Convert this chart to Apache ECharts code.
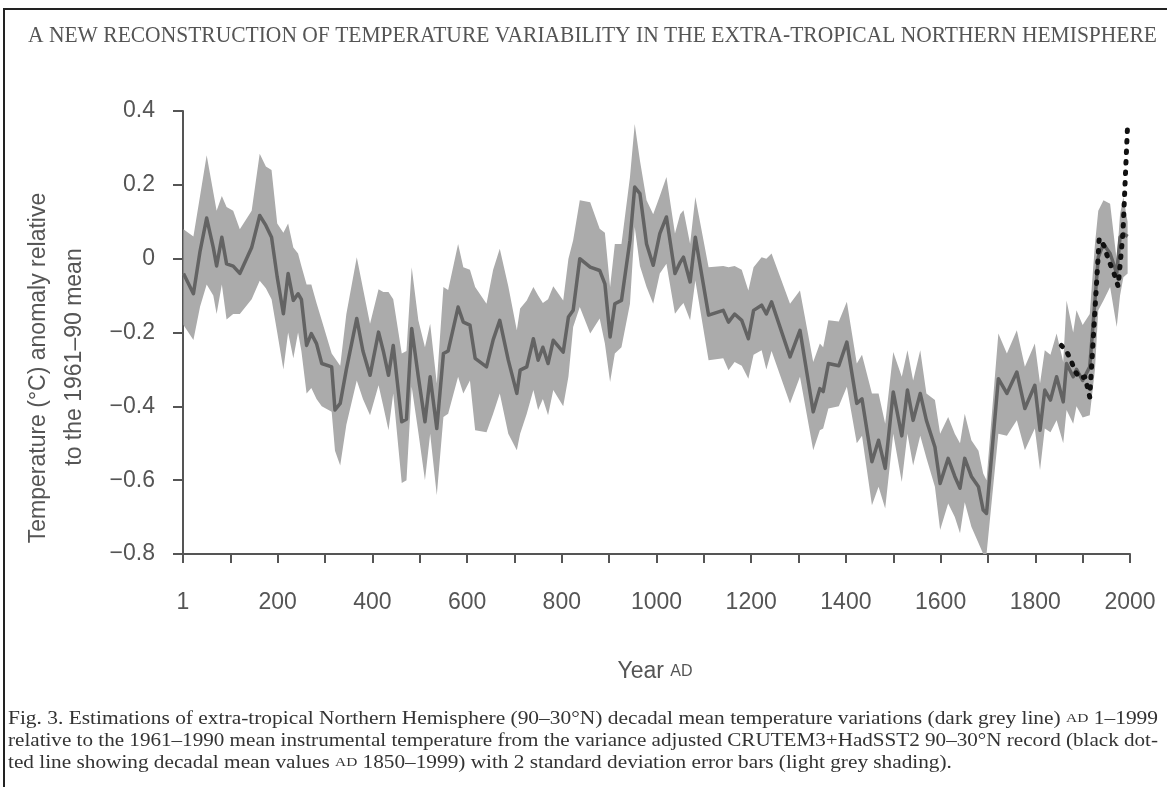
<!DOCTYPE html>
<html>
<head>
<meta charset="utf-8">
<script src="https://cdn.jsdelivr.net/npm/echarts@6/dist/echarts.min.js"></script>
<style>
  html, body { margin: 0; padding: 0; background: #fff; }
  #chart { width: 1167px; height: 787px; }
</style>
</head>
<body>
<div id="chart"></div>
<script>
// Reconstruction: decadal mean anomaly (°C) with ±2 s.d. envelope
const years = [1,22,36,50,64,71,82,92,106,120,145,162,175,187,199,212,222,233,243,250,261,271,282,293,314,321,332,345,367,380,395,413,423,434,444,462,472,483,497,511,522,536,550,560,581,592,606,617,641,655,669,687,705,712,726,740,750,760,771,782,803,814,824,838,860,880,891,902,912,926,944,954,965,979,993,1007,1021,1039,1050,1057,1071,1082,1110,1141,1152,1165,1180,1194,1205,1222,1232,1243,1282,1303,1331,1345,1352,1363,1385,1402,1423,1434,1455,1469,1483,1500,1518,1530,1542,1557,1570,1588,1599,1616,1630,1641,1651,1665,1680,1690,1697,1722,1740,1761,1778,1799,1810,1820,1832,1845,1859,1866,1880,1887,1900,1915,1926,1933,1944,1958,1972,1979,1986,1995];
const meanAnomaly = [-0.04,-0.095,0.02,0.11,0.03,-0.02,0.058,-0.014,-0.02,-0.04,0.03,0.117,0.09,0.058,-0.05,-0.149,-0.04,-0.113,-0.095,-0.11,-0.235,-0.203,-0.23,-0.284,-0.293,-0.41,-0.392,-0.30,-0.162,-0.25,-0.316,-0.199,-0.25,-0.316,-0.235,-0.442,-0.435,-0.189,-0.32,-0.442,-0.32,-0.46,-0.257,-0.25,-0.131,-0.172,-0.18,-0.27,-0.293,-0.22,-0.167,-0.275,-0.365,-0.302,-0.293,-0.217,-0.275,-0.24,-0.284,-0.221,-0.253,-0.158,-0.14,0.0,-0.023,-0.032,-0.068,-0.212,-0.122,-0.113,0.05,0.194,0.176,0.04,-0.018,0.068,0.113,-0.04,-0.01,0.004,-0.063,0.058,-0.153,-0.14,-0.172,-0.15,-0.167,-0.217,-0.14,-0.126,-0.15,-0.117,-0.266,-0.194,-0.415,-0.352,-0.36,-0.284,-0.29,-0.226,-0.392,-0.38,-0.55,-0.492,-0.568,-0.361,-0.48,-0.356,-0.438,-0.365,-0.438,-0.51,-0.609,-0.541,-0.59,-0.622,-0.541,-0.59,-0.618,-0.681,-0.69,-0.325,-0.365,-0.307,-0.406,-0.343,-0.465,-0.356,-0.383,-0.32,-0.388,-0.284,-0.32,-0.30,-0.33,-0.293,-0.113,0.004,0.04,0.014,-0.04,0.058,0.068,0.06];
const upper2sd = [0.08,0.06,0.17,0.28,0.18,0.13,0.17,0.14,0.13,0.08,0.13,0.284,0.25,0.24,0.095,0.07,0.095,0.03,0.014,-0.02,-0.07,-0.07,-0.12,-0.167,-0.257,-0.27,-0.29,-0.15,0.004,-0.08,-0.176,-0.083,-0.09,-0.09,-0.11,-0.257,-0.25,-0.023,-0.167,-0.24,-0.176,-0.338,-0.077,-0.085,0.04,-0.023,-0.03,-0.077,-0.122,-0.03,0.027,-0.075,-0.194,-0.135,-0.113,-0.077,-0.10,-0.12,-0.11,-0.075,-0.113,0.0,0.05,0.158,0.153,0.081,0.07,-0.077,0.04,0.04,0.221,0.365,0.266,0.158,0.12,0.17,0.221,0.068,0.12,0.131,0.04,0.167,-0.023,-0.02,-0.023,-0.02,-0.03,-0.086,-0.023,0.004,0.0,0.014,-0.122,-0.086,-0.28,-0.23,-0.24,-0.167,-0.17,-0.117,-0.284,-0.26,-0.365,-0.365,-0.447,-0.253,-0.32,-0.248,-0.33,-0.248,-0.365,-0.383,-0.474,-0.429,-0.474,-0.50,-0.42,-0.492,-0.52,-0.582,-0.60,-0.203,-0.257,-0.194,-0.293,-0.23,-0.338,-0.248,-0.26,-0.203,-0.28,-0.113,-0.20,-0.14,-0.18,-0.15,0.04,0.13,0.158,0.149,-0.005,0.12,0.167,0.10];
const lower2sd = [-0.18,-0.22,-0.13,-0.07,-0.10,-0.15,-0.07,-0.165,-0.15,-0.15,-0.11,-0.06,-0.08,-0.11,-0.20,-0.30,-0.20,-0.27,-0.20,-0.25,-0.365,-0.35,-0.38,-0.40,-0.415,-0.52,-0.56,-0.45,-0.33,-0.38,-0.424,-0.343,-0.40,-0.465,-0.365,-0.608,-0.60,-0.347,-0.47,-0.60,-0.474,-0.641,-0.429,-0.42,-0.32,-0.365,-0.33,-0.465,-0.47,-0.42,-0.365,-0.474,-0.519,-0.474,-0.42,-0.356,-0.41,-0.38,-0.424,-0.356,-0.40,-0.32,-0.185,-0.131,-0.203,-0.162,-0.23,-0.334,-0.257,-0.24,-0.122,0.086,-0.02,-0.077,-0.122,-0.04,-0.014,-0.149,-0.13,-0.12,-0.167,-0.059,-0.275,-0.27,-0.302,-0.28,-0.29,-0.325,-0.26,-0.248,-0.30,-0.25,-0.392,-0.32,-0.519,-0.465,-0.46,-0.406,-0.40,-0.347,-0.50,-0.48,-0.668,-0.618,-0.677,-0.474,-0.605,-0.474,-0.56,-0.48,-0.54,-0.618,-0.735,-0.663,-0.70,-0.744,-0.66,-0.726,-0.77,-0.80,-0.80,-0.474,-0.48,-0.438,-0.519,-0.46,-0.573,-0.46,-0.47,-0.438,-0.50,-0.41,-0.447,-0.40,-0.43,-0.424,-0.30,-0.14,-0.113,-0.077,-0.185,-0.10,-0.05,-0.04];

// Instrumental record, decadal means AD 1850–1999
const obsYears = [1855,1865,1875,1885,1895,1905,1915,1925,1935,1945,1955,1965,1975,1985,1995];
const obsAnomaly = [-0.235,-0.248,-0.275,-0.307,-0.325,-0.32,-0.375,-0.16,0.055,0.035,-0.005,-0.035,-0.075,0.068,0.365];

const xTicks = { min: 0, max: 2000, step: 100 };
const yTicks = { min: -0.8, max: 0.4, step: 0.2 };

const titleText = 'A NEW RECONSTRUCTION OF TEMPERATURE VARIABILITY IN THE EXTRA-TROPICAL NORTHERN HEMISPHERE';
const yName = ['Temperature (°C) anomaly relative', 'to the 1961–90 mean'];
const captionLines = [
  [['Fig. 3. Estimations of extra-tropical Northern Hemisphere (90–30°N) decadal mean temperature variations (dark grey line) ', 'n'], ['AD', 's'], [' 1–1999', 'n']],
  [['relative to the 1961–1990 mean instrumental temperature from the variance adjusted CRUTEM3+HadSST2 90–30°N record (black dot-', 'n']],
  [['ted line showing decadal mean values ', 'n'], ['AD', 's'], [' 1850–1999) with 2 standard deviation error bars (light grey shading).', 'n']]
];

const SERIF = '"Liberation Serif", "DejaVu Serif", serif';
const SANS = '"Liberation Sans", Arial, sans-serif';

const ctx = document.createElement('canvas').getContext('2d');
function measure(text, font) { ctx.font = font; return ctx.measureText(text).width; }

// title squeezed to its printed width
const titleFont = '23px ' + SERIF;
const titleScale = 1129 / measure(titleText, titleFont);

// caption, justified lines
const capSize = 18, capSmall = 13;
function capWidth(line) {
  return line.reduce((s, [t, k]) => s + measure(t, (k === 's' ? capSmall : capSize) + 'px ' + SERIF), 0);
}
const capScales = [1150 / capWidth(captionLines[0]), 1150 / capWidth(captionLines[1])];
capScales.push((capScales[0] + capScales[1]) / 2);
function capRich(line) {
  return line.map(([t, k]) => '{' + k + '|' + t + '}').join('');
}
const capY = [719, 741, 763];

const graphics = [
  { type: 'line', shape: { x1: 3, y1: 9, x2: 1167, y2: 9 }, style: { stroke: '#222', lineWidth: 2 }, silent: true },
  { type: 'line', shape: { x1: 4, y1: 8, x2: 4, y2: 787 }, style: { stroke: '#222', lineWidth: 2 }, silent: true },
  {
    type: 'text', x: 28, y: 36, scaleX: titleScale, originX: 0, originY: 0,
    style: { text: titleText, font: titleFont, fill: '#555', textAlign: 'left', textVerticalAlign: 'middle' }
  },
  {
    type: 'text', x: 39, y: 368, rotation: Math.PI / 2,
    style: { text: yName[0], font: '23px ' + SANS, fill: '#555', textAlign: 'center', textVerticalAlign: 'middle' }
  },
  {
    type: 'text', x: 75, y: 357, rotation: Math.PI / 2,
    style: { text: yName[1], font: '23px ' + SANS, fill: '#555', textAlign: 'center', textVerticalAlign: 'middle' }
  },
  {
    type: 'text', x: 655, y: 672,
    style: {
      text: '{a|Year }{b|AD}', textAlign: 'center', textVerticalAlign: 'middle',
      rich: {
        a: { fontSize: 23, fontFamily: SANS, fill: '#555', color: '#555' },
        b: { fontSize: 16, fontFamily: SANS, fill: '#555', color: '#555' }
      }
    }
  }
];
captionLines.forEach((line, i) => {
  graphics.push({
    type: 'text', x: 8, y: capY[i], scaleX: capScales[i], originX: 0, originY: 0,
    style: {
      text: capRich(line), textAlign: 'left', textVerticalAlign: 'middle',
      rich: {
        n: { fontSize: capSize, fontFamily: SERIF, fill: '#333', color: '#333' },
        s: { fontSize: capSmall, fontFamily: SERIF, fill: '#333', color: '#333' }
      }
    }
  });
});

const chart = echarts.init(document.getElementById('chart'), null, { renderer: 'canvas', devicePixelRatio: 1 });

chart.setOption({
  animation: false,
  backgroundColor: '#fff',
  grid: { left: 183, right: 37, top: 111, bottom: 233, containLabel: false },
  xAxis: {
    type: 'value', min: xTicks.min, max: xTicks.max, interval: xTicks.step,
    splitLine: { show: false },
    axisLine: { onZero: false, lineStyle: { color: '#555', width: 2 } },
    axisTick: { show: true, length: 9, lineStyle: { color: '#555', width: 2 } },
    axisLabel: {
      margin: 37, fontSize: 23, fontFamily: SANS, color: '#555',
      formatter: v => (v === 0 ? '1' : (v % 200 === 0 ? String(v) : ''))
    }
  },
  yAxis: {
    type: 'value', min: yTicks.min, max: yTicks.max, interval: yTicks.step,
    splitLine: { show: false },
    axisLine: { show: true, onZero: false, lineStyle: { color: '#555', width: 2 } },
    axisTick: { show: true, length: 10, lineStyle: { color: '#555', width: 2 } },
    axisLabel: {
      margin: 28, fontSize: 23, fontFamily: SANS, color: '#555',
      formatter: v => (Math.abs(v) < 1e-9 ? '0' : v.toFixed(1).replace('-', '−'))
    }
  },
  graphic: graphics,
  series: [
    {
      type: 'custom',
      name: '2 s.d. range',
      silent: true,
      clip: false,
      data: [0],
      z: 1,
      renderItem: function (params, api) {
        if (params.dataIndex !== 0) return null;
        const pts = [];
        for (let i = 0; i < years.length; i++) pts.push(api.coord([years[i], upper2sd[i]]));
        for (let i = years.length - 1; i >= 0; i--) pts.push(api.coord([years[i], lower2sd[i]]));
        return { type: 'polygon', shape: { points: pts }, style: { fill: '#ababab', stroke: null } };
      }
    },
    {
      type: 'line',
      name: 'Reconstruction',
      data: years.map((y, i) => [y, meanAnomaly[i]]),
      showSymbol: false,
      silent: true,
      z: 2,
      lineStyle: { color: '#636363', width: 3.5, join: 'round' }
    },
    {
      type: 'line',
      name: 'CRUTEM3+HadSST2',
      data: obsYears.map((y, i) => [y, obsAnomaly[i]]),
      showSymbol: false,
      silent: true,
      z: 3,
      lineStyle: { color: '#111', width: 5, type: [1.5, 9], cap: 'round' }
    }
  ]
});
</script>
</body>
</html>
